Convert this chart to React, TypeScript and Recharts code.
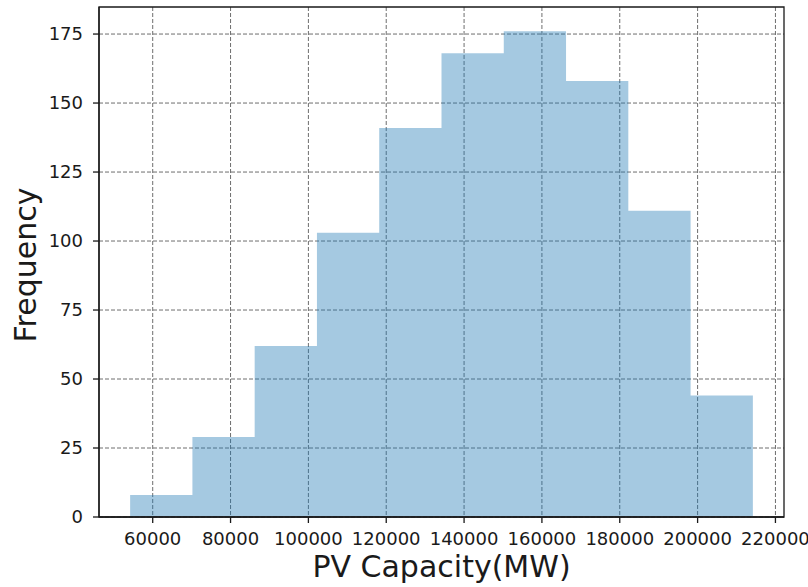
import React from "react";
import {
  Area,
  CartesianGrid,
  ComposedChart,
  ReferenceArea,
  XAxis,
  YAxis,
} from "recharts";

// Histogram of installed PV capacity, 10 equal-width bins
const binEdges = [
  54200, 70200, 86200, 102200, 118200, 134200, 150200, 166200, 182200, 198200, 214200,
];
const binCounts = [8, 29, 62, 103, 141, 168, 176, 158, 111, 44];

const xTicks = [60000, 80000, 100000, 120000, 140000, 160000, 180000, 200000, 220000];
const yTicks = [0, 25, 50, 75, 100, 125, 150, 175];

// stepAfter needs one point per edge; the last edge repeats the final count
const stepData = binEdges.map((edge, i) => ({
  edge,
  count: binCounts[Math.min(i, binCounts.length - 1)],
}));

// matplotlib-style 5% padding around the data
const span = binEdges[binEdges.length - 1] - binEdges[0];
const xDomain = [binEdges[0] - span * 0.05, binEdges[binEdges.length - 1] + span * 0.05];
const yDomain = [0, Math.max(...binCounts) * 1.05];

const FONT = "'DejaVu Sans', sans-serif";
const INK = "#1a1a1a";
const tickStyle = { fontSize: 18, fill: INK, fontFamily: FONT };

export default function App() {
  return (
    <div
      style={{
        position: "absolute",
        left: 0,
        top: 0,
        width: 808,
        height: 587,
        background: "#fff",
      }}
    >
      <ComposedChart
        width={808}
        height={587}
        data={stepData}
        margin={{ top: 7, right: 24, bottom: 0, left: 0 }}
      >
        <Area
          type="stepAfter"
          dataKey="count"
          fill="#1f77b4"
          fillOpacity={0.4}
          stroke="none"
          baseValue={0}
          isAnimationActive={false}
        />
        <CartesianGrid
          stroke="#6e6e6e"
          strokeWidth={1}
          strokeDasharray="4 2"
          horizontalValues={yTicks}
          verticalValues={xTicks}
        />
        {/* axes frame on all four sides */}
        <ReferenceArea
          x1={xDomain[0]}
          x2={xDomain[1]}
          y1={yDomain[0]}
          y2={yDomain[1]}
          fill="none"
          stroke={INK}
          strokeWidth={1.3}
          ifOverflow="visible"
        />
        <XAxis
          dataKey="edge"
          type="number"
          domain={xDomain}
          ticks={xTicks}
          allowDataOverflow
          height={70}
          tick={tickStyle}
          tickSize={6}
          tickMargin={9}
          tickLine={{ stroke: INK, strokeWidth: 1.3 }}
          axisLine={{ stroke: INK, strokeWidth: 1.3 }}
          label={{
            content: (props: any) => {
              const { x, width } = props.viewBox;
              return (
                <text
                  x={x + width / 2}
                  y={577}
                  textAnchor="middle"
                  fontSize={30}
                  fontFamily={FONT}
                  fill={INK}
                >
                  PV Capacity(MW)
                </text>
              );
            },
          }}
        />
        <YAxis
          type="number"
          domain={yDomain}
          ticks={yTicks}
          allowDataOverflow
          width={99}
          tick={tickStyle}
          tickSize={6}
          tickMargin={10}
          tickLine={{ stroke: INK, strokeWidth: 1.3 }}
          axisLine={{ stroke: INK, strokeWidth: 1.3 }}
          label={{
            content: (props: any) => {
              const { y, height } = props.viewBox;
              const cy = y + height / 2 + 3;
              return (
                <text
                  x={36}
                  y={cy}
                  transform={`rotate(-90, 36, ${cy})`}
                  textAnchor="middle"
                  fontSize={30}
                  fontFamily={FONT}
                  fill={INK}
                >
                  Frequency
                </text>
              );
            },
          }}
        />
      </ComposedChart>
    </div>
  );
}
